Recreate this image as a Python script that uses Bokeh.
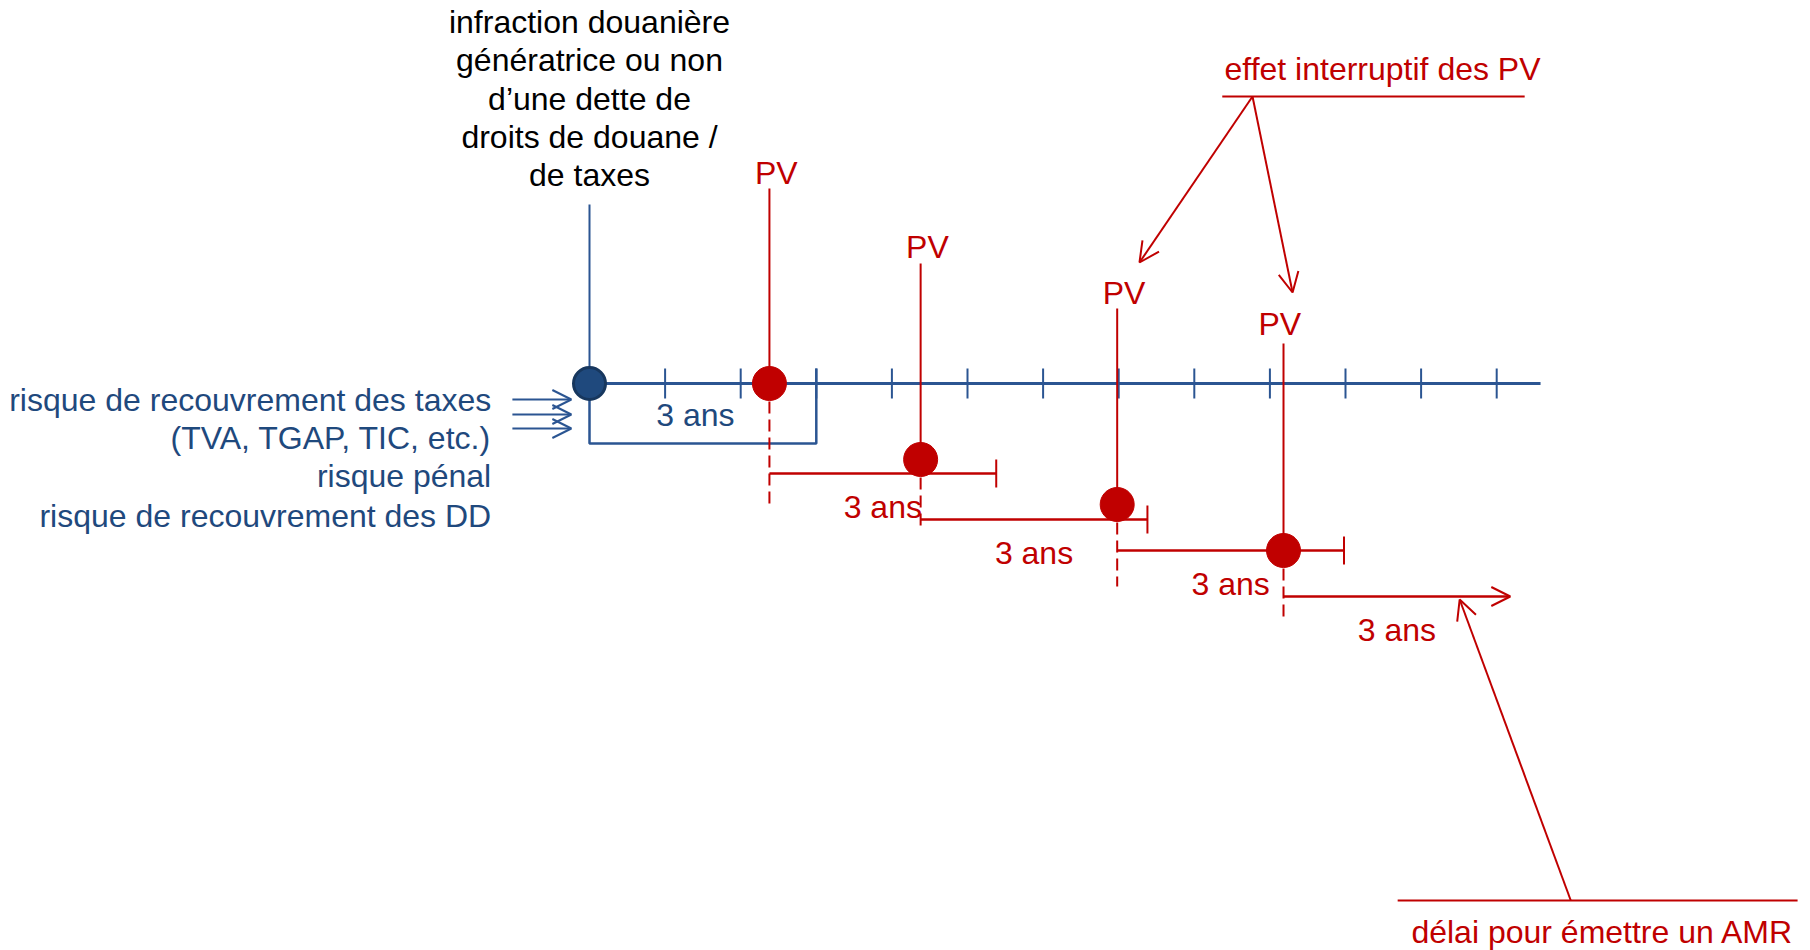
from bokeh.plotting import figure
from bokeh.models import Range1d, Arrow, OpenHead
from bokeh.core.properties import value
from bokeh.embed import file_html
from bokeh.resources import INLINE

# ---------------- data ----------------
# time line, in years from the customs offence
origin_year = 0
tick_years = [1, 2, 3, 4, 5, 6, 7, 8, 9, 10, 11, 12]
axis_end_year = 12.58
limit_years = 3
pv_years = [2.38, 4.38, 6.98, 9.18]
pv_label_years = [2.47, 4.47, 7.07, 9.13]
duration_label = "3 ans"

# vertical levels (pixels from the top of the page)
axis_level = 383
origin_top = 204
origin_bracket_level = 443
pv_label_levels = [172, 246, 292, 323]
pv_line_tops = [188, 263, 308, 343]
pv_dot_levels = [383, 459, 504, 550]
pv_dash_ends = [509, 525, 586, 618]
pv_bracket_levels = [473, 519, 550, 596]

event_lines = ["infraction douanière", "génératrice ou non", "d’une dette de",
               "droits de douane /", "de taxes"]
event_levels = [21, 59, 98, 136, 174]

risk_lines = ["risque de recouvrement des taxes", "(TVA, TGAP, TIC, etc.)",
              "risque pénal", "risque de recouvrement des DD"]
risk_levels = [399, 437, 475, 515]
risk_x = -1.30
risk_arrow_levels = [399, 414, 428]
risk_arrow_x = [-1.02, -0.24]

note1_text = "effet interruptif des PV"
note1_pos = (10.49, 68)
note1_rule = ([8.37, 12.37], 96)
note1_from = (8.77, 96)
note1_targets = [(7.275, 262), (9.30, 292)]

note2_text = "délai pour émettre un AMR"
note2_pos = (15.93, 931)
note2_rule = ([10.69, 15.98], 900)
note2_from = (12.98, 900)
note2_target = (11.51, 599)

# ---------------- style ----------------
BLUE = "#2B5592"
BLUE_TXT = "#1F497D"
BLUE_DOT = "#1F497D"
BLUE_EDGE = "#17375E"
RED = "#C00000"
FONT = value("Liberation Sans")
FS = "32px"

W, H = 1810, 950
x0 = (0 - 589) / 75.6
x1 = (W - 589) / 75.6
p = figure(width=W, height=H, x_range=Range1d(x0, x1), y_range=Range1d(H, 0),
           output_backend="svg", toolbar_location=None, min_border=0)
p.xaxis.visible = False
p.yaxis.visible = False
p.xgrid.visible = False
p.ygrid.visible = False
p.outline_line_color = None
p.background_fill_color = "white"

# event text
p.text(x=[origin_year] * len(event_lines), y=event_levels, text=event_lines,
       text_align="center", text_baseline="middle", text_font=FONT,
       text_font_size=FS, text_color="black")

# origin vertical line
p.segment(x0=[origin_year], y0=[origin_top], x1=[origin_year], y1=[axis_level],
          line_color=BLUE, line_width=2)

# time axis
p.segment(x0=[origin_year], y0=[axis_level], x1=[axis_end_year], y1=[axis_level],
          line_color=BLUE, line_width=3)
p.segment(x0=tick_years, y0=[axis_level - 15] * len(tick_years), x1=tick_years,
          y1=[axis_level + 15] * len(tick_years), line_color=BLUE, line_width=2)

# blue bracket of 3 years
p.line(x=[origin_year, origin_year, origin_year + limit_years, origin_year + limit_years],
       y=[axis_level, origin_bracket_level, origin_bracket_level, axis_level - 15],
       line_color=BLUE, line_width=2.5)
p.text(x=[origin_year + 1.40], y=[414], text=[duration_label], text_align="center",
       text_baseline="middle", text_font=FONT, text_font_size=FS, text_color=BLUE_TXT)

# risk labels
p.text(x=[risk_x] * len(risk_lines), y=risk_levels, text=risk_lines, text_align="right",
       text_baseline="middle", text_font=FONT, text_font_size=FS, text_color=BLUE_TXT)
for lv in risk_arrow_levels:
    p.add_layout(Arrow(x_start=risk_arrow_x[0], y_start=lv, x_end=risk_arrow_x[1], y_end=lv,
                       line_color=BLUE, line_width=2,
                       end=OpenHead(size=19, line_color=BLUE, line_width=2)))

# PV events
n = len(pv_years)
p.segment(x0=pv_years, y0=pv_line_tops, x1=pv_years, y1=pv_dot_levels,
          line_color=RED, line_width=2)
p.segment(x0=pv_years, y0=pv_dot_levels, x1=pv_years, y1=pv_dash_ends,
          line_color=RED, line_width=2, line_dash="12 6")
ends = [x + limit_years for x in pv_years]
p.segment(x0=pv_years[:-1], y0=pv_bracket_levels[:-1], x1=ends[:-1], y1=pv_bracket_levels[:-1],
          line_color=RED, line_width=2.5)
p.segment(x0=ends[:-1], y0=[l - 14 for l in pv_bracket_levels[:-1]], x1=ends[:-1],
          y1=[l + 14 for l in pv_bracket_levels[:-1]], line_color=RED, line_width=2)
p.add_layout(Arrow(x_start=pv_years[-1], y_start=pv_bracket_levels[-1], x_end=ends[-1],
                   y_end=pv_bracket_levels[-1], line_color=RED, line_width=2.5,
                   end=OpenHead(size=19, line_color=RED, line_width=2)))
p.text(x=[x + 1.5 for x in pv_years], y=[l + 33 for l in pv_bracket_levels],
       text=[duration_label] * n, text_align="center", text_baseline="middle",
       text_font=FONT, text_font_size=FS, text_color=RED)
p.text(x=pv_label_years, y=pv_label_levels, text=["PV"] * n, text_align="center",
       text_baseline="middle", text_font=FONT, text_font_size=FS, text_color=RED)

# dots
p.scatter(x=pv_years, y=pv_dot_levels, size=34, fill_color=RED, line_color=RED, line_width=1)
p.scatter(x=[origin_year], y=[axis_level], size=32, fill_color=BLUE_DOT,
          line_color=BLUE_EDGE, line_width=3)

# note 1
p.text(x=[note1_pos[0]], y=[note1_pos[1]], text=[note1_text], text_align="center",
       text_baseline="middle", text_font=FONT, text_font_size=FS, text_color=RED)
p.segment(x0=[note1_rule[0][0]], y0=[note1_rule[1]], x1=[note1_rule[0][1]], y1=[note1_rule[1]],
          line_color=RED, line_width=2)
for tx, ty in note1_targets:
    p.add_layout(Arrow(x_start=note1_from[0], y_start=note1_from[1], x_end=tx, y_end=ty,
                       line_color=RED, line_width=2,
                       end=OpenHead(size=20, line_color=RED, line_width=2)))

# note 2
p.text(x=[note2_pos[0]], y=[note2_pos[1]], text=[note2_text], text_align="right",
       text_baseline="middle", text_font=FONT, text_font_size=FS, text_color=RED)
p.segment(x0=[note2_rule[0][0]], y0=[note2_rule[1]], x1=[note2_rule[0][1]], y1=[note2_rule[1]],
          line_color=RED, line_width=2)
p.add_layout(Arrow(x_start=note2_from[0], y_start=note2_from[1], x_end=note2_target[0],
                   y_end=note2_target[1], line_color=RED, line_width=2,
                   end=OpenHead(size=20, line_color=RED, line_width=2)))

open("out.html", "w").write(file_html(p, INLINE))
